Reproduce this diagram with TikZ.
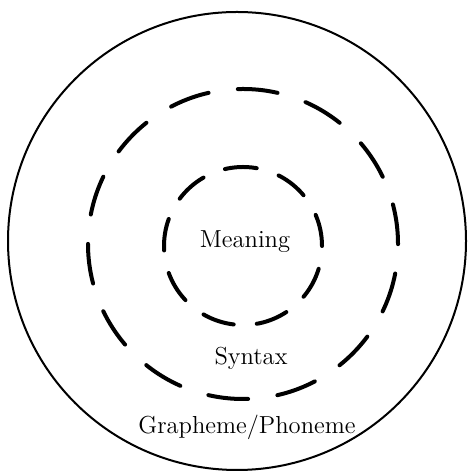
\documentclass[tikz,border=0pt]{standalone}
\usepackage{tikz}

\begin{document}
\begin{tikzpicture}[x=.5pt,y=.5pt,font=\fontsize{12.3}{14}\selectfont,
  ring/.style={line width=2pt,line cap=round},
  outerring/.style={line width=1pt}]
\useasboundingbox (0,0) rectangle (467,474);
\draw[outerring] (237,233) circle (229);
\draw[ring,dash pattern=on 20pt off 14.78pt] (243,230) circle (155);
\draw[ring,dash pattern=on 16pt off 11.58pt] (243,228) circle (79);
\node (meaning) at (245,232) {Meaning};
\node (syntax) at (251,116) {Syntax};
\node (grapheme) at (247,47) {Grapheme/Phoneme};
\end{tikzpicture}
\end{document}
